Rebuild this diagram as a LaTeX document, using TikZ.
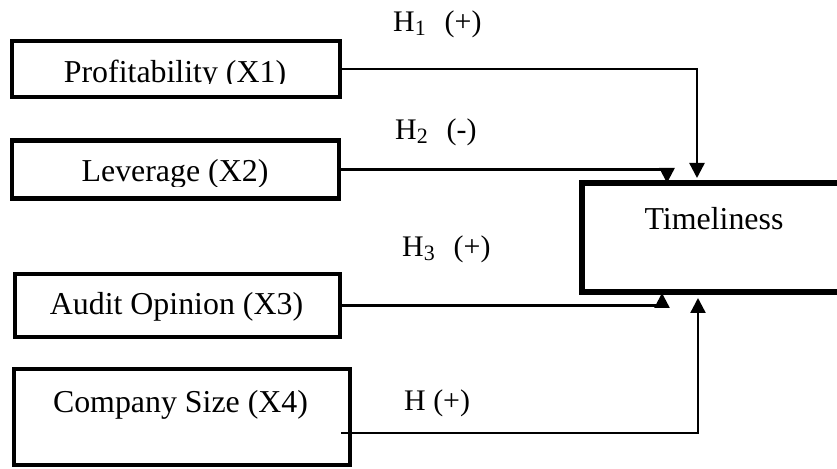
\documentclass[tikz,border=0pt]{standalone}
\usepackage{fontspec}
\setmainfont{Liberation Serif}
\usetikzlibrary{arrows.meta}
\newcommand{\hsub}[1]{\raisebox{-3.5bp}{\fontsize{22}{22}\selectfont #1}}
\tikzset{
  varbox/.style={draw, line width=4.5bp, rectangle, inner sep=0pt},
  depbox/.style={draw, line width=5.5bp, rectangle, inner sep=0pt},
  txt/.style={font=\fontsize{32}{32}\selectfont, inner sep=0pt, anchor=base},
  lab/.style={font=\fontsize{30}{30}\selectfont, inner sep=0pt, anchor=base west},
  conn/.style={line width=2.4bp, -{Triangle[length=15bp,width=15bp]}},
}
\begin{document}
\begin{tikzpicture}[x=1bp,y=-1bp]
\useasboundingbox (0,0) rectangle (837,469);
\begin{scope}
\clip (0,0) rectangle (837,469);
% boxes
\node[varbox, minimum width=328bp, minimum height=56bp] (p) at (176,69) {};
\node[varbox, minimum width=327bp, minimum height=58bp] (l) at (175.5,169.5) {};
\node[varbox, minimum width=325bp, minimum height=63bp] (a) at (177.5,305.5) {};
\node[varbox, minimum width=336bp, minimum height=96bp] (c) at (182,417) {};
\node[depbox, minimum width=320bp, minimum height=109bp] (t) at (742,237.5) {};
\end{scope}
% texts
\begin{scope}
\clip (10,40) rectangle (342,84);
\node[txt] (pt) at (175,83) {Profitability (X1)};
\end{scope}
\begin{scope}
\clip (10,141) rectangle (342,187);
\node[txt] (lt) at (175,182) {Leverage (X2)};
\end{scope}
\node[txt] (at) at (176.5,315) {Audit Opinion (X3)};
\node[txt] (ct) at (180.5,412) {Company Size (X4)};
\node[txt] (tt) at (714,230) {Timeliness};
% labels
\node[lab] (h1) at (393,32) {H\hsub{1}\hspace{19bp}(+)};
\node[lab] (h2) at (395,140) {H\hsub{2}\hspace{19bp}(-)};
\node[lab] (h3) at (402,257) {H\hsub{3}\hspace{19bp}(+)};
\node[lab] (h4) at (404,410) {H (+)};
% connector end points
\coordinate (e1) at (697,178);
\coordinate (e2) at (667,183);
\coordinate (e3) at (662,293);
\coordinate (e4) at (698,298);
\coordinate (s4) at (341,433);
% connectors
\draw[conn] (p.east) -| (e1);
\draw[conn] (l.east) -| (e2);
\draw[conn] (a.east) -| (e3);
\draw[conn] (s4) -| (e4);
\end{tikzpicture}
\end{document}
